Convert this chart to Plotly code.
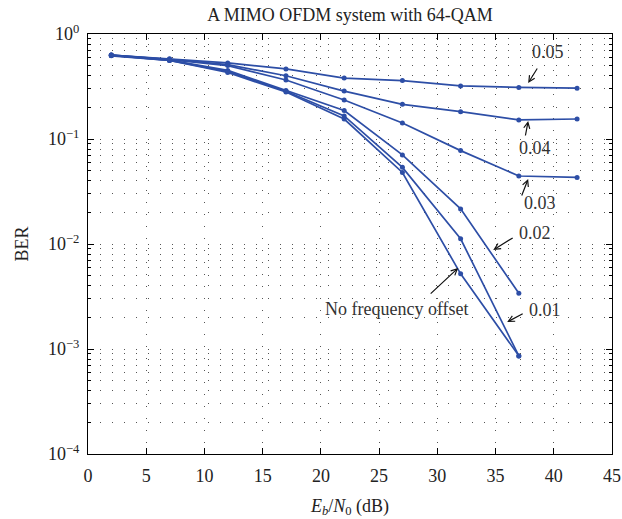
import plotly.graph_objects as go

# ---- data ----
snr_db = [2, 7, 12, 17, 22, 27, 32, 37, 42]
ber_005 = [0.63, 0.58, 0.53, 0.465, 0.38, 0.36, 0.32, 0.31, 0.305]
ber_004 = [0.63, 0.575, 0.51, 0.40, 0.286, 0.214, 0.182, 0.152, 0.155]
ber_003 = [0.63, 0.57, 0.50, 0.365, 0.235, 0.142, 0.0775, 0.0444, 0.0431]
ber_002 = [0.625, 0.565, 0.45, 0.29, 0.187, 0.0705, 0.0216, 0.00339]
ber_001 = [0.625, 0.56, 0.44, 0.285, 0.166, 0.0537, 0.0112, 0.00086]
ber_000 = [0.62, 0.56, 0.43, 0.28, 0.155, 0.048, 0.0052, 0.00086]

series = [ber_005, ber_004, ber_003, ber_002, ber_001, ber_000]

# labels: (text, head_x, head_logy, tail_x, tail_logy, text_x, text_logy)
labels = [
    ("0.05", 37.8, -0.467, 38.66, -0.314, 39.5, -0.171),
    ("0.04", 37.8, -0.829, 37.54, -0.981, 38.4, -1.086),
    ("0.03", 37.8, -1.381, 37.2, -1.552, 38.83, -1.61),
    ("0.02", 34.8, -2.057, 36.6, -1.933, 38.4, -1.895),
    ("0.01", 36.0, -2.743, 37.46, -2.657, 39.26, -2.629),
    ("No frequency offset", 31.79, -2.229, 29.3, -2.486, 26.55, -2.619),
]

y_major = [1e-4, 1e-3, 1e-2, 1e-1, 1]
y_major_text = ["10<sup>−4</sup>", "10<sup>−3</sup>", "10<sup>−2</sup>", "10<sup>−1</sup>", "10<sup>0</sup>"]
y_minor = [m * 10.0 ** e for e in range(-4, 0) for m in range(2, 10)]

line_color = "#2d4ea6"
font_family = "Liberation Serif, Times New Roman, serif"
grid_dash = "1px,11px"
grid_color = "#555555"

fig = go.Figure()
for ys in series:
    fig.add_trace(go.Scatter(
        x=snr_db[:len(ys)], y=ys, mode="lines+markers",
        line=dict(color=line_color, width=1.7),
        marker=dict(color=line_color, size=5),
        showlegend=False,
    ))

for text, hx, hy, tx, ty, lx, ly in labels:
    fig.add_annotation(x=hx, y=hy, ax=tx, ay=ty, xref="x", yref="y",
                       axref="x", ayref="y", text="", showarrow=True,
                       arrowhead=5, arrowsize=1, arrowwidth=1.2,
                       arrowcolor="#111111")
    fig.add_annotation(x=lx, y=ly, xref="x", yref="y", text=text,
                       showarrow=False, font=dict(size=18, color="#333333",
                                                  family=font_family))

fig.update_layout(
    width=622, height=519,
    margin=dict(l=88, r=10, t=34, b=65, autoexpand=False),
    paper_bgcolor="white", plot_bgcolor="white",
    font=dict(family=font_family, size=18, color="#222222"),
    title=dict(text="A MIMO OFDM system with 64-QAM", x=0.5, xanchor="center",
               xref="paper", y=0.972, yanchor="middle", yref="container",
               font=dict(size=18, color="#222222")),
)
fig.update_xaxes(
    range=[0, 45], tick0=0, dtick=5, ticks="inside", ticklen=6,
    tickcolor="black", showline=True, linecolor="black", linewidth=1,
    mirror="ticks", showgrid=True, gridcolor=grid_color, gridwidth=1,
    griddash=grid_dash, zeroline=False, ticklabelstandoff=5, automargin=False,
    title=dict(text="<i>E</i><sub><i>b</i></sub>/<i>N</i><sub>0</sub> (dB)",
               standoff=14, font=dict(size=18)),
    tickfont=dict(size=18),
)
fig.update_yaxes(
    type="log", range=[-4, 0], tickmode="array", tickvals=y_major,
    ticktext=y_major_text, ticks="inside", ticklen=6, tickcolor="black",
    showline=True, linecolor="black", linewidth=1, mirror="ticks",
    showgrid=True, gridcolor=grid_color, gridwidth=1, griddash=grid_dash,
    zeroline=False, ticklabelstandoff=4, automargin=False,
    minor=dict(tickmode="array", tickvals=y_minor, ticks="inside", ticklen=3,
               tickcolor="black", showgrid=True, gridcolor=grid_color,
               gridwidth=1, griddash=grid_dash),
    title=dict(text="BER", standoff=14, font=dict(size=18)),
    tickfont=dict(size=18),
)

fig.write_html("out.html")
